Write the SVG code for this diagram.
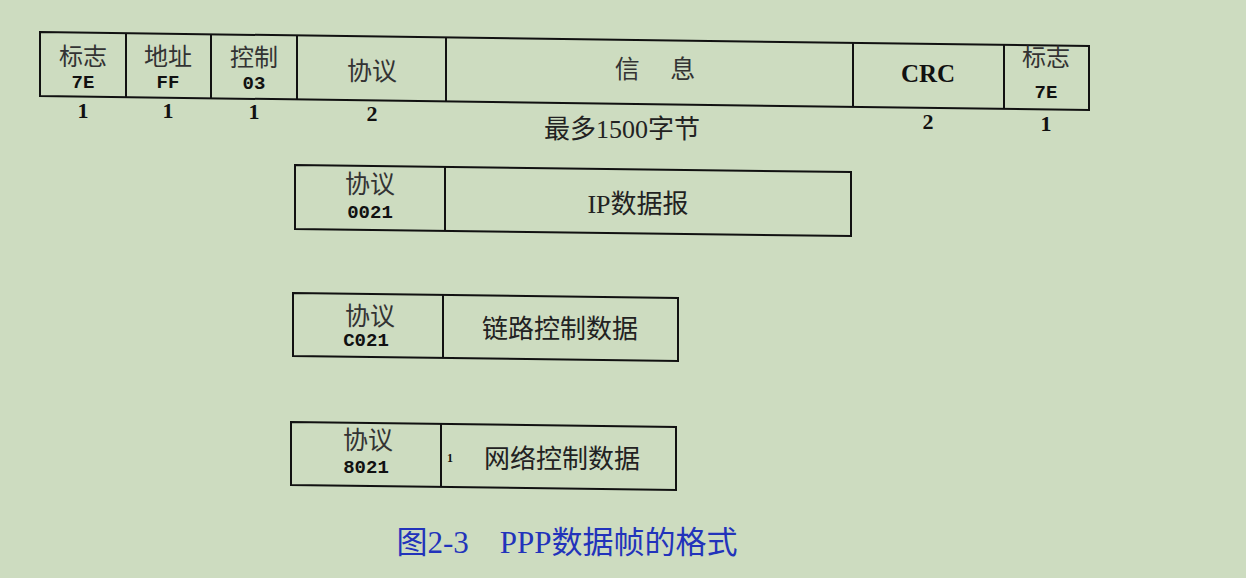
<svg xmlns="http://www.w3.org/2000/svg" width="1246" height="578" viewBox="0 0 1246 578">
<style>
.b{fill:none;stroke:#111;stroke-width:2}
.cn{font-family:"Noto Sans CJK SC",sans-serif;font-size:25px;fill:#333;text-anchor:middle}
.t{font-size:24px}
.m{font-family:"Liberation Mono",monospace;font-weight:bold;font-size:19px;fill:#111;text-anchor:middle}
.n{font-family:"Liberation Serif",serif;font-weight:bold;font-size:22px;fill:#111;text-anchor:middle}
.s{font-family:"Liberation Serif","Noto Sans CJK SC",serif;font-size:26px;fill:#222;text-anchor:middle}
</style>
<rect width="1246" height="578" fill="#cddcc0"/>
<g id="frame">
<polygon class="b" points="40,32 1089,46 1089,110 40,96"/>
<path class="b" d="M126,33V97M211,34V98M297,35V99M446,37V101M853,42V106M1004,44V108"/>
<text class="cn t" x="83" y="65">标志</text><text class="m" x="83" y="88">7E</text>
<text class="cn t" x="168" y="65">地址</text><text class="m" x="168" y="88">FF</text>
<text class="cn t" x="254" y="66">控制</text><text class="m" x="254" y="89">03</text>
<text class="cn" x="372" y="80">协议</text>
<text class="cn" x="655" y="78">信　 息</text>
<text class="n" x="928" y="82" style="font-size:25px">CRC</text>
<text class="cn t" x="1046" y="66">标志</text><text class="m" x="1046" y="98">7E</text>
<text class="n" x="83" y="118">1</text><text class="n" x="168" y="118">1</text><text class="n" x="254" y="119">1</text><text class="n" x="372" y="121">2</text>
<text class="n" x="928" y="129">2</text><text class="n" x="1046" y="131">1</text>
<text class="s" x="622" y="138">最多1500字节</text>
</g>
<g id="ip">
<polygon class="b" points="295,165 851,172 851,236 295,229"/>
<path class="b" d="M445,167V231"/>
<text class="cn" x="370" y="193">协议</text><text class="m" x="370" y="218">0021</text>
<text class="s" x="638" y="213">IP数据报</text>
</g>
<g id="lcp">
<polygon class="b" points="293,293 678,298 678,361 293,356"/>
<path class="b" d="M443,295V358"/>
<text class="cn" x="370" y="325">协议</text><text class="m" x="366" y="346">C021</text>
<text class="s" x="560" y="338">链路控制数据</text>
</g>
<g id="ncp">
<polygon class="b" points="291,422 676,427 676,490 291,485"/>
<path class="b" d="M441,424V487"/>
<text class="cn" x="368" y="449">协议</text><text class="m" x="366" y="473">8021</text>
<text class="n" x="450" y="462" style="font-size:12px">1</text>
<text class="s" x="562" y="468">网络控制数据</text>
</g>
<text x="567" y="553" style="font-family:'Liberation Serif','Noto Sans CJK SC',serif;font-size:31px;fill:#2233bb;text-anchor:middle">图2-3　PPP数据帧的格式</text>
</svg>
